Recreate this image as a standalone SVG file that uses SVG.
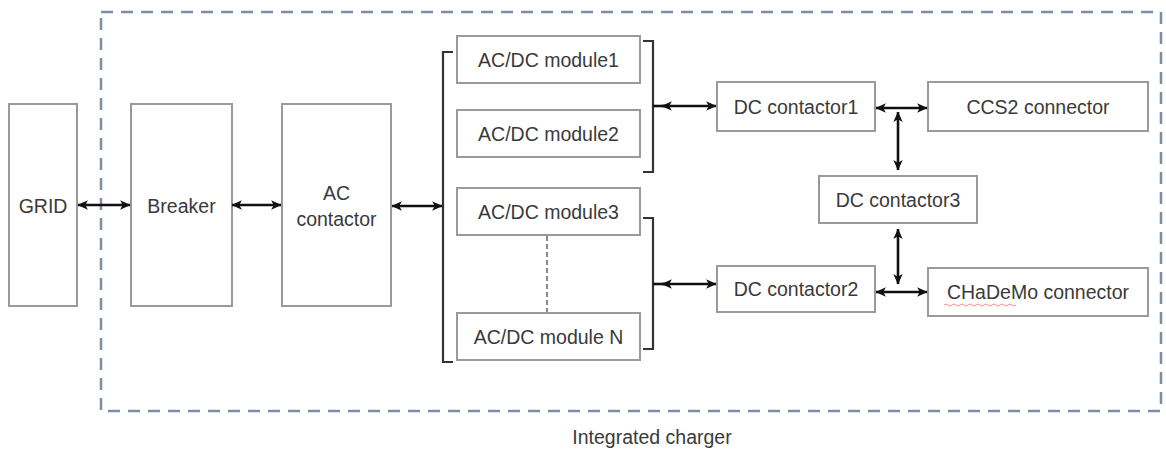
<svg xmlns="http://www.w3.org/2000/svg" width="1166" height="454" viewBox="0 0 1166 454">
<style>
.box{fill:#fff;stroke:#9a9a9a;stroke-width:2}
.lbl{font-family:"Liberation Sans",Arial,sans-serif;font-size:19.5px;fill:#3a3a3a;text-anchor:middle}
.conn{stroke:#111;stroke-width:2.6;fill:none}
.brk{stroke:#333;stroke-width:2.2;fill:none}
</style>
<defs>
<marker id="ah" viewBox="0 0 10 10" refX="9.5" refY="5" markerWidth="4" markerHeight="4" orient="auto-start-reverse" markerUnits="strokeWidth">
<path d="M0,0.5 L10,5 L0,9.5 L2.5,5 Z" fill="#111"/>
</marker>
</defs>
<rect width="1166" height="454" fill="#fff"/>
<g id="frame">
<rect x="101" y="12" width="1060" height="399" fill="none" stroke="#7c8fa6" stroke-width="2.5" stroke-dasharray="12 8"/>
<text class="lbl" x="652" y="444" font-size="19.5">Integrated charger</text>
</g>
<g id="grid"><rect class="box" x="9" y="104" width="68" height="202"/><text class="lbl" x="43" y="213">GRID</text></g>
<g id="breaker"><rect class="box" x="131" y="104" width="101" height="202"/><text class="lbl" x="181.5" y="213">Breaker</text></g>
<g id="ac-contactor"><rect class="box" x="282" y="104" width="109" height="202"/><text class="lbl" x="336.5" y="200">AC</text><text class="lbl" x="336.5" y="226">contactor</text></g>
<g id="module1"><rect class="box" x="457" y="36" width="183" height="47"/><text class="lbl" x="548.5" y="66.5">AC/DC module1</text></g>
<g id="module2"><rect class="box" x="457" y="110" width="183" height="47"/><text class="lbl" x="548.5" y="140.5">AC/DC module2</text></g>
<g id="module3"><rect class="box" x="457" y="188" width="183" height="47"/><text class="lbl" x="548.5" y="218.5">AC/DC module3</text></g>
<g id="moduleN"><rect class="box" x="457" y="313" width="183" height="47"/><text class="lbl" x="548.5" y="343.5">AC/DC module N</text></g>
<g id="dc-contactor1"><rect class="box" x="717" y="82" width="158" height="49"/><text class="lbl" x="796" y="113.5">DC contactor1</text></g>
<g id="ccs2"><rect class="box" x="928" y="82" width="220" height="49"/><text class="lbl" x="1038" y="113.5">CCS2 connector</text></g>
<g id="dc-contactor3"><rect class="box" x="819" y="176" width="158" height="47"/><text class="lbl" x="898" y="206.5">DC contactor3</text></g>
<g id="dc-contactor2"><rect class="box" x="717" y="266" width="158" height="46"/><text class="lbl" x="796" y="296">DC contactor2</text></g>
<g id="chademo"><rect class="box" x="928" y="268" width="220" height="48"/><text class="lbl" x="1038" y="299">CHaDeMo connector</text>
<path d="M944,305 q2,-2 4,0 t4,0 t4,0 t4,0 t4,0 t4,0 t4,0 t4,0 t4,0 t4,0 t4,0 t4,0 t4,0 t4,0 t4,0 t4,0 t4,0 t4,0" fill="none" stroke="#e06060" stroke-width="1" opacity="0.7"/></g>
<g id="connectors">
<path class="brk" d="M453,52 H443 V362 H453"/>
<path class="brk" d="M643,41 H653 V172 H643"/>
<path class="brk" d="M643,218 H653 V349 H643"/>
<line x1="547" y1="236" x2="547" y2="312" stroke="#888" stroke-width="2" stroke-dasharray="5 3"/>
<line class="conn" x1="78" y1="205" x2="130" y2="205" marker-start="url(#ah)" marker-end="url(#ah)"/>
<line class="conn" x1="232" y1="205" x2="281" y2="205" marker-start="url(#ah)" marker-end="url(#ah)"/>
<line class="conn" x1="392" y1="206" x2="442" y2="206" marker-start="url(#ah)" marker-end="url(#ah)"/>
<line class="conn" x1="653" y1="106" x2="668" y2="106"/>
<line class="conn" x1="662" y1="106" x2="716" y2="106" marker-start="url(#ah)" marker-end="url(#ah)"/>
<line class="conn" x1="653" y1="284" x2="668" y2="284"/>
<line class="conn" x1="662" y1="284" x2="716" y2="284" marker-start="url(#ah)" marker-end="url(#ah)"/>
<line class="conn" x1="876" y1="108" x2="927" y2="108" marker-start="url(#ah)" marker-end="url(#ah)"/>
<line class="conn" x1="898" y1="112" x2="898" y2="170" marker-start="url(#ah)" marker-end="url(#ah)"/>
<line class="conn" x1="898" y1="229" x2="898" y2="284" marker-start="url(#ah)" marker-end="url(#ah)"/>
<line class="conn" x1="876" y1="292" x2="927" y2="292" marker-start="url(#ah)" marker-end="url(#ah)"/>
</g>
</svg>
